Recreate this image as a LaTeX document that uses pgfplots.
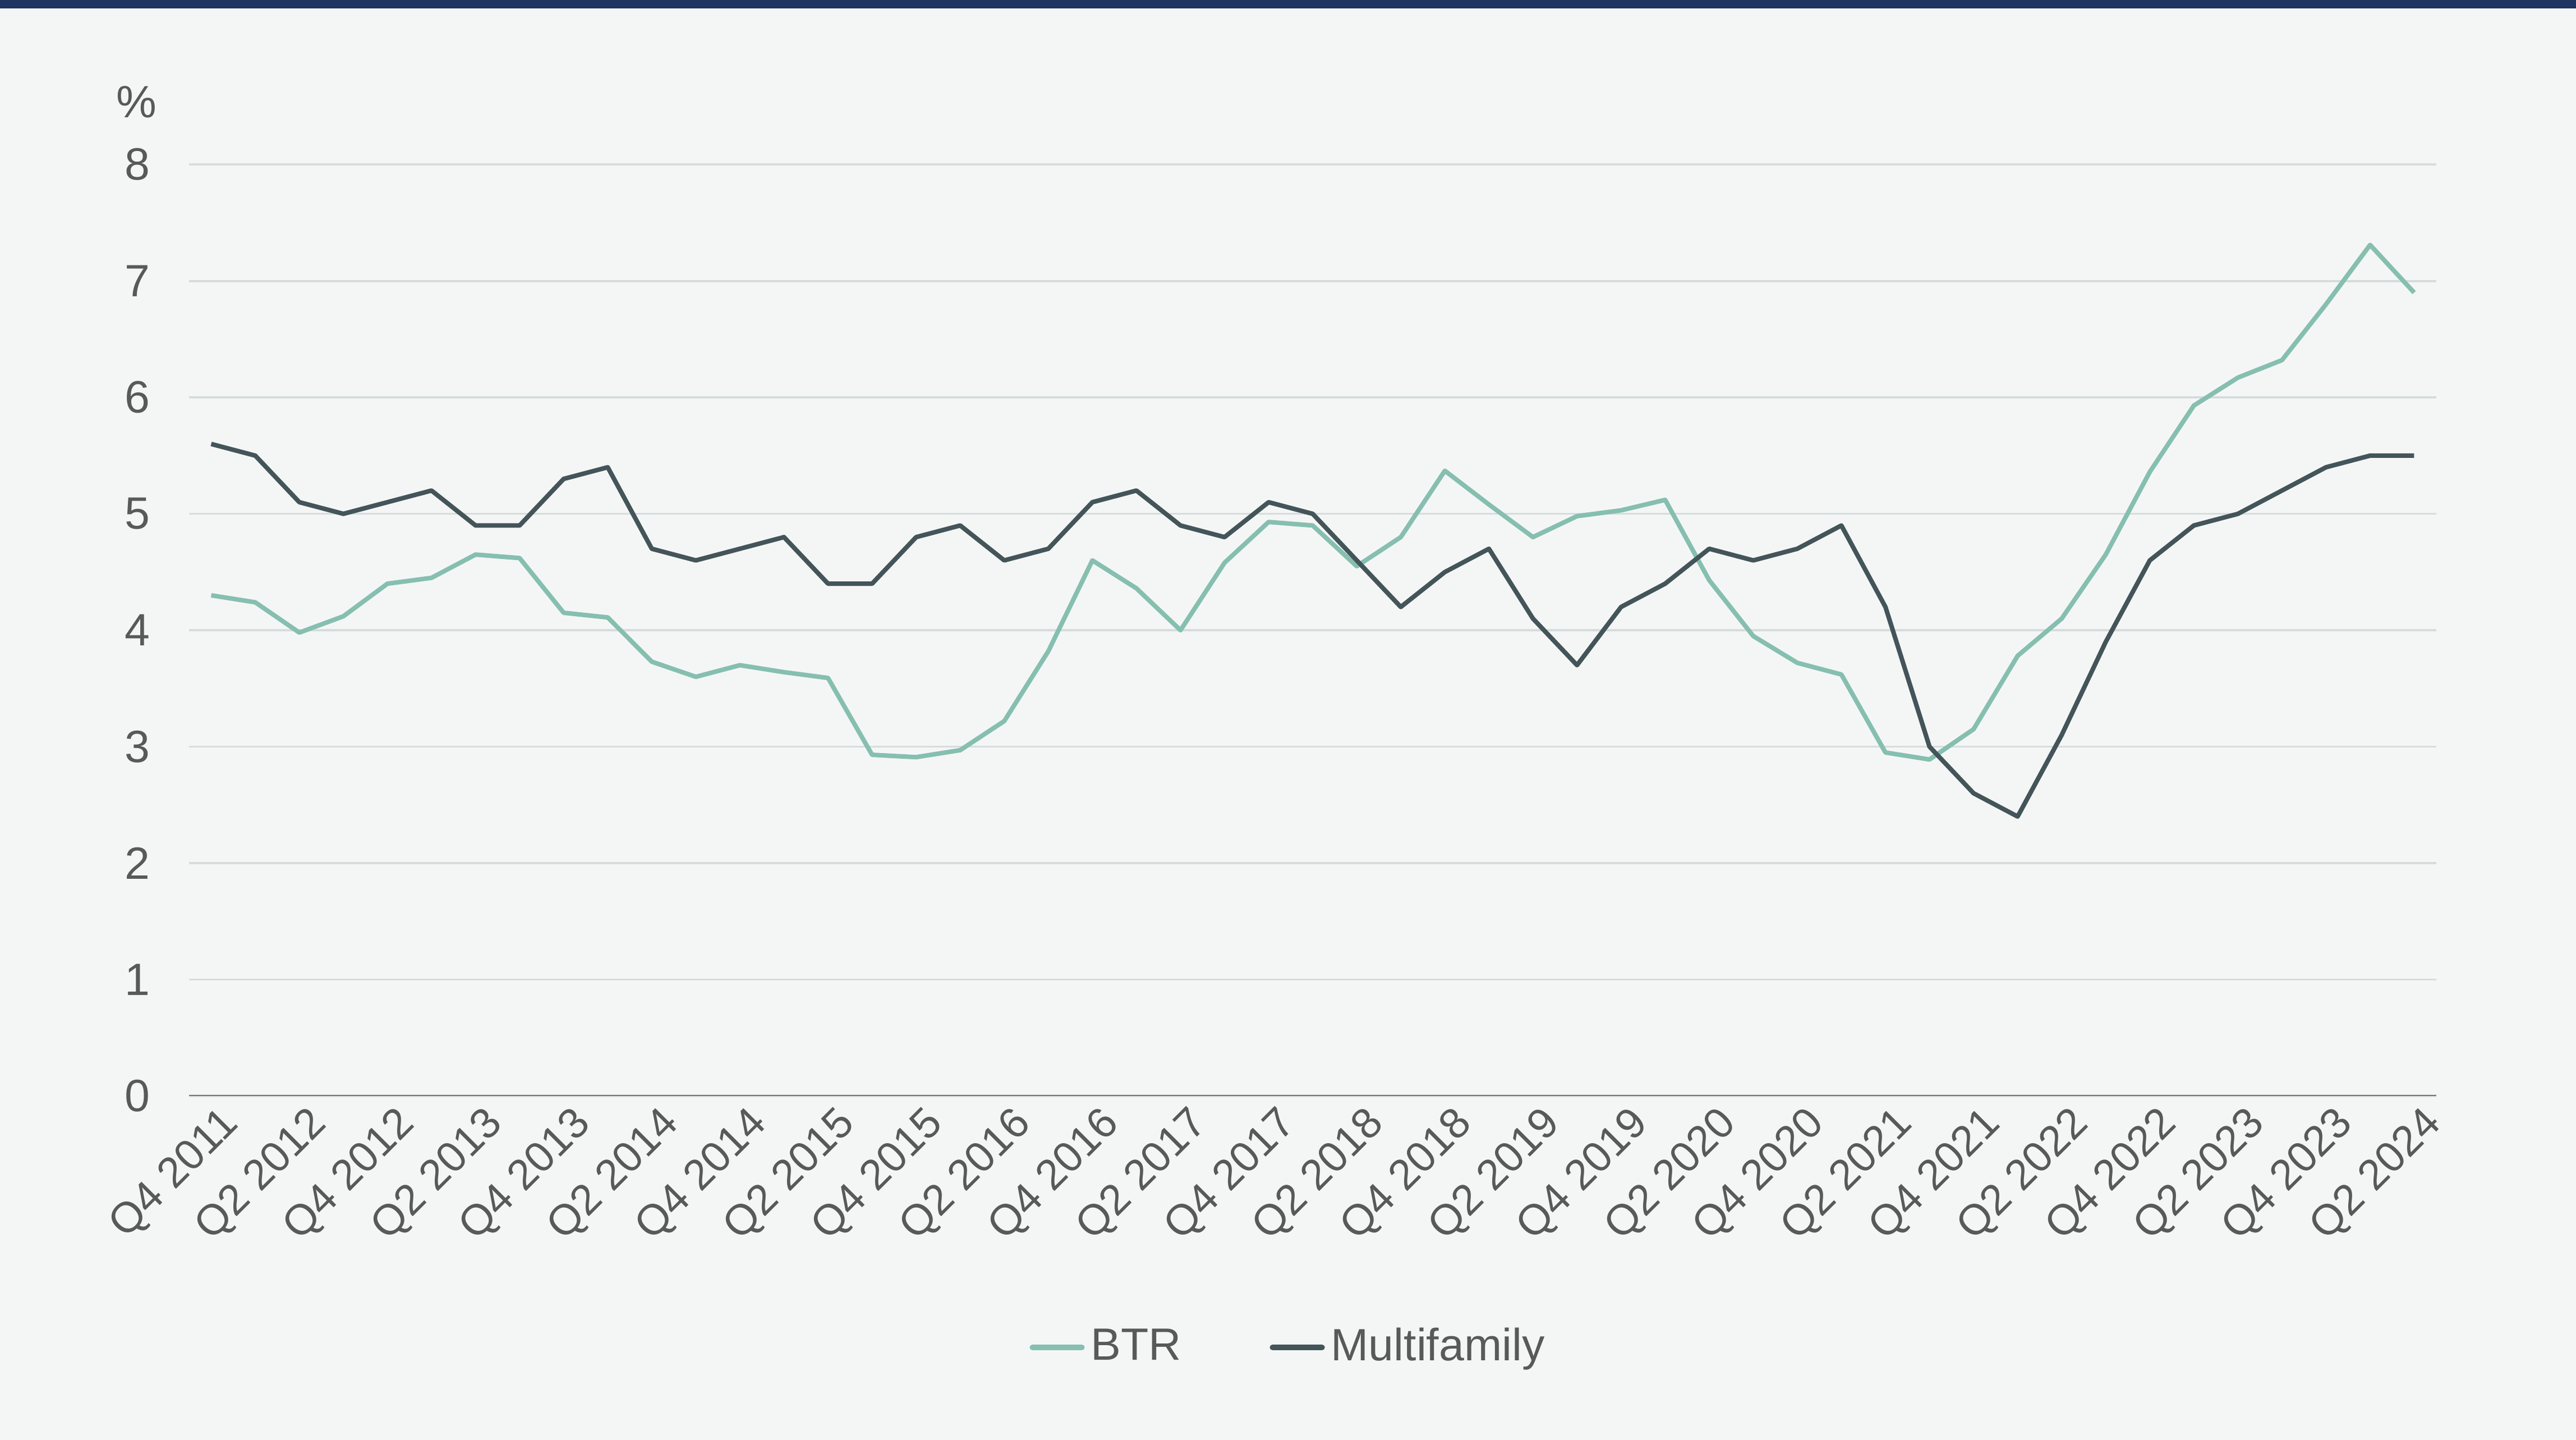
\documentclass[border=0pt]{standalone}
\usepackage{pgfplots}
\pgfplotsset{compat=1.18}
\usepackage{pgfplotstable}
\usepackage{fontspec}
\setmainfont{Liberation Sans}

\definecolor{bg}{HTML}{F4F6F5}
\definecolor{navy}{HTML}{1E3461}
\definecolor{btr}{HTML}{86BFB0}
\definecolor{multi}{HTML}{44555A}
\definecolor{txt}{HTML}{595959}
\definecolor{gridc}{HTML}{D6DCDD}
\definecolor{zeroc}{HTML}{707070}

% quarter index 0 = Q4 2011 ... 50 = Q2 2024
\pgfplotstableread{
i btr multi
0 4.30 5.6
1 4.24 5.5
2 3.98 5.1
3 4.12 5.0
4 4.40 5.1
5 4.45 5.2
6 4.65 4.9
7 4.62 4.9
8 4.15 5.3
9 4.11 5.4
10 3.73 4.7
11 3.60 4.6
12 3.70 4.7
13 3.64 4.8
14 3.59 4.4
15 2.93 4.4
16 2.91 4.8
17 2.97 4.9
18 3.22 4.6
19 3.82 4.7
20 4.60 5.1
21 4.36 5.2
22 4.00 4.9
23 4.58 4.8
24 4.93 5.1
25 4.90 5.0
26 4.55 4.6
27 4.80 4.2
28 5.37 4.5
29 5.08 4.7
30 4.80 4.1
31 4.98 3.7
32 5.03 4.2
33 5.12 4.4
34 4.43 4.7
35 3.95 4.6
36 3.72 4.7
37 3.62 4.9
38 2.95 4.2
39 2.89 3.0
40 3.15 2.6
41 3.78 2.4
42 4.10 3.1
43 4.65 3.9
44 5.36 4.6
45 5.93 4.9
46 6.17 5.0
47 6.32 5.2
48 6.80 5.4
49 7.31 5.5
50 6.90 5.5
}\data

\begin{document}
\begin{tikzpicture}
\fill[bg] (0,0) rectangle (626.4bp,350bp);
\fill[navy] (0,348bp) rectangle (626.4bp,350bp);
\path[use as bounding box] (0,0) rectangle (626.4bp,350bp);
\node[text=txt, font=\fontsize{11bp}{13bp}\selectfont] at (33.2bp,325.2bp) {\%};

\begin{axis}[
  at={(46bp,83.6bp)}, anchor=south west,
  width=546.4bp, height=226.4bp, scale only axis,
  xmin=-0.5, xmax=50.5, ymin=0, ymax=8,
  axis line style={draw=none},
  ytick={0,1,...,8},
  xtick={0,2,...,50},
  xticklabels={Q4 2011,Q2 2012,Q4 2012,Q2 2013,Q4 2013,Q2 2014,Q4 2014,Q2 2015,Q4 2015,Q2 2016,Q4 2016,Q2 2017,Q4 2017,Q2 2018,Q4 2018,Q2 2019,Q4 2019,Q2 2020,Q4 2020,Q2 2021,Q4 2021,Q2 2022,Q4 2022,Q2 2023,Q4 2023,Q2 2024},
  major tick length=0,
  ymajorgrids,
  grid style={gridc, line width=0.5bp},
  /pgf/number format/assume math mode=true,
  tick label style={text=txt, font=\fontsize{11bp}{13bp}\selectfont},
  yticklabel style={anchor=east, xshift=-6bp},
  xticklabel style={rotate=45, anchor=north east, inner sep=1.5bp, xshift=1.5bp, yshift=-1bp,
    font=\fontsize{10.4bp}{12bp}\selectfont},
  legend columns=2,
  legend style={draw=none, fill=none, at={(0.49,-0.27)}, anchor=center,
    font=\fontsize{11bp}{13bp}\selectfont, text=txt, inner sep=0pt,
    nodes={inner xsep=1.5bp},
    /tikz/every even column/.append style={column sep=20bp}},
  legend cell align=left,
  legend image code/.code={\draw[#1, line cap=round, line width=1.4bp] (0bp,0bp) -- (12bp,0bp);},
]
\draw[zeroc, line width=0.6bp] (rel axis cs:0,0) -- (rel axis cs:1,0);
\addplot[btr, line width=1.1bp, line join=round] table[x=i, y=btr] {\data};
\addplot[multi, line width=1.1bp, line join=round] table[x=i, y=multi] {\data};
\legend{BTR, Multifamily}
\end{axis}
\end{tikzpicture}
\end{document}
